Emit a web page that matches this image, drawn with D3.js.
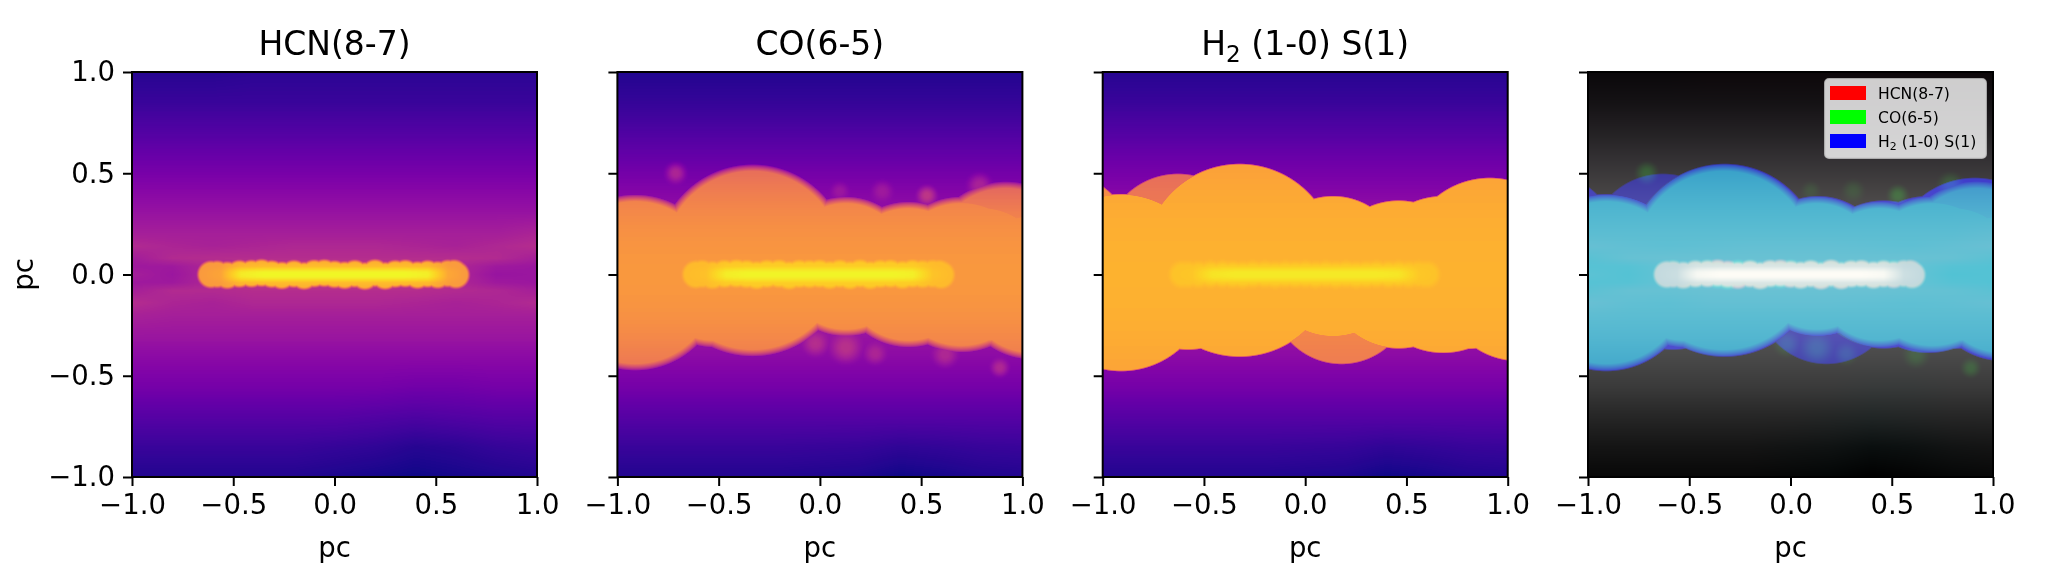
<!DOCTYPE html>
<html><head><meta charset="utf-8">
<script src="https://cdn.jsdelivr.net/npm/d3@7"></script>
<style>
html,body{margin:0;padding:0;background:#fff;width:2046px;height:575px;overflow:hidden}
canvas{position:absolute}
svg{position:absolute;left:0;top:0}
text{font-family:"DejaVu Sans";fill:#000}
</style></head><body>
<script>
// ---------- data (axis values, species) ----------
const tickValues = [-1, -0.5, 0, 0.5, 1];
const titles = ["HCN(8-7)", "CO(6-5)", "H2 (1-0) S(1)"];
const legendColors = ["#ff0000", "#00ff00", "#0000ff"];
const axisLabel = "pc";

// background emission, plasma-normalised, on a grid (rows top to bottom)
const gridX = [-1, -0.8, -0.6, -0.4, -0.2, 0, 0.2, 0.4, 0.6, 0.8, 1];
const gridY = [1, 0.85, 0.7, 0.55, 0.4, 0.3, 0.2, 0.14, 0.08, 0.04, 0, -0.04, -0.08, -0.14, -0.2, -0.3, -0.4, -0.55, -0.7, -0.85, -1];
const hcnGrid = [
 [.04,.04,.04,.05,.05,.05,.05,.05,.05,.05,.05],
 [.08,.08,.08,.08,.08,.08,.08,.08,.08,.08,.08],
 [.14,.14,.14,.14,.14,.14,.14,.14,.14,.14,.14],
 [.21,.21,.21,.21,.21,.21,.21,.21,.21,.21,.21],
 [.28,.28,.28,.28,.28,.28,.28,.28,.28,.28,.28],
 [.32,.32,.32,.32,.32,.32,.32,.32,.32,.32,.32],
 [.36,.36,.36,.36,.36,.36,.36,.36,.36,.36,.38],
 [.40,.38,.37,.38,.39,.39,.39,.38,.37,.39,.41],
 [.35,.40,.41,.41,.41,.41,.41,.41,.41,.40,.36],
 [.34,.34,.39,.43,.44,.44,.44,.43,.39,.34,.33],
 [.36,.33,.39,.45,.45,.45,.45,.45,.39,.32,.33],
 [.34,.34,.39,.43,.44,.44,.44,.43,.39,.34,.33],
 [.36,.40,.40,.41,.41,.41,.41,.41,.40,.39,.36],
 [.41,.38,.37,.39,.39,.39,.39,.38,.37,.38,.40],
 [.37,.36,.36,.36,.36,.36,.36,.36,.36,.36,.36],
 [.33,.33,.33,.33,.33,.33,.33,.33,.33,.33,.33],
 [.29,.29,.29,.29,.29,.29,.29,.29,.29,.29,.29],
 [.23,.23,.23,.23,.23,.23,.23,.22,.22,.23,.23],
 [.15,.15,.15,.15,.15,.15,.14,.13,.14,.15,.15],
 [.08,.08,.08,.08,.08,.07,.06,.04,.05,.07,.08],
 [.03,.03,.03,.03,.03,.02,.01,.00,.01,.02,.03]];
const coRows = [.03,.07,.13,.20,.27,.31,.33,.33,.33,.33,.33,.33,.33,.33,.33,.32,.29,.23,.15,.08,.03];
const h2Rows = [.04,.08,.14,.21,.27,.31,.33,.33,.33,.33,.33,.33,.33,.33,.33,.32,.29,.23,.15,.08,.03];
// extra darkening of the lower edge around x = 0.5, per grid column
const lowerDip = [0, 0, 0, 0, 0, .005, .01, .03, .02, .005, 0];

// discs: [x, y, radius, level, fall-off with height]
const coDiscs = [
 [-.33,.07,.475,.76,.12],[-.91,-.04,.435,.76,.12],[.13,.04,.345,.76,.12],[.44,0,.36,.76,.12],
 [-.52,0,.36,.76,.12],[.7,0,.385,.76,.12],[1.05,-.05,.37,.76,.12],[.8,0,.36,.76,.12],[.92,.06,.40,.76,.2],
 [-.71,.50,.07,.38,0],[.53,.39,.065,.44,0],[.89,-.46,.06,.39,0],[.275,-.39,.07,.38,0],
 [.62,-.395,.08,.39,0],[.13,-.36,.1,.42,0],[-.02,-.34,.08,.41,0],[.1,.41,.06,.33,0],
 [.31,.41,.07,.34,0],[.79,.44,.08,.37,0]];
const h2Discs = [
 [-.325,.07,.479,.83,.04],[-.91,-.04,.44,.83,.04],[.136,.04,.35,.83,.04],[.46,0,.368,.83,.04],
 [-.58,0,.374,.83,.04],[.68,0,.39,.83,.04],[1.05,-.05,.38,.83,.04],[.8,0,.37,.83,.04],[.91,.06,.42,.83,.04],
 [-1.25,.1,.42,.74,.02],
 [.178,-.095,.35,.73,.07],[-.63,.13,.37,.70,.07],[.68,-.12,.23,.46,0]];

// the bright bar: chain of small discs
const barX  = [-.61,-.58,-.53,-.47,-.41,-.36,-.31,-.26,-.2,-.15,-.1,-.05,0,.05,.1,.15,.2,.25,.3,.35,.41,.46,.51,.56,.59,.6];
const hcnBarY = [0,.001,-.004,.003,.004,.008,.002,-.005,.003,-.007,.005,.007,.001,-.004,.004,-.008,.007,-.007,.003,.005,-.003,.003,-.002,.005,.006,-.002];
const coBarY  = [0,.003,-.003,.003,.005,.002,-.004,.003,.004,-.005,.003,.002,.004,-.003,.004,-.004,.005,-.004,.003,.004,-.002,.004,.002,.004,.003,-.002];
const h2BarY  = [0,0,0,.002,.002,0,-.002,.002,.002,-.002,.002,0,.002,-.002,.002,-.002,.002,-.002,0,.002,0,.002,0,.002,0,0];
// along-bar brightness envelope, and across-bar profile
const envX = [-.68,-.56,-.46,-.35,.35,.46,.56,.66];
const envV = [0,.12,.85,1,1,.9,.15,0];
const profD = [0,.012,.025,.04,.062];
const profV = [1,.95,.65,.22,.02];

// ---------- layout ----------
const size = 405, axTop = 72, lefts = [132, 617.4, 1102.7, 1588];
const x = d3.scaleLinear().domain([-1, 1]).range([0, size]);
const y = d3.scaleLinear().domain([-1, 1]).range([size, 0]);
const svg = d3.select("body").append("svg").attr("width", 2046).attr("height", 575).style("z-index", 2);

// ---------- field helpers ----------
const colIndex = d3.scaleLinear().domain(gridX).range(gridX.map((_, i) => i)).clamp(true);
const rowIndex = d3.scaleLinear().domain(gridY).range(gridY.map((_, i) => i)).clamp(true);
const hcnBg = (px, py) => bilinear(hcnGrid, px, py);
const coMat = coRows.map((v, r) => gridX.map((_, c) => v - (r >= 19 ? lowerDip[c] * (r === 20 ? 1 : .7) : 0)));
const h2Mat = h2Rows.map((v, r) => gridX.map((_, c) => v - (r >= 19 ? lowerDip[c] * (r === 20 ? 1 : .7) : 0)));
function bilinear(m, px, py) {
  const cf = colIndex(px), rf = rowIndex(py);
  const c = Math.min(Math.floor(cf), gridX.length - 2), r = Math.min(Math.floor(rf), gridY.length - 2);
  const a = cf - c, b = rf - r;
  return (m[r][c] * (1 - a) + m[r][c + 1] * a) * (1 - b) + (m[r + 1][c] * (1 - a) + m[r + 1][c + 1] * a) * b;
}
const env = d3.scaleLinear().domain(envX).range(envV).clamp(true);
const prof = d3.scaleLinear().domain(profD).range(profV).clamp(true);

function makeField(bgFn, discs, barY, opt) {
  const f = new Float32Array(size * size);
  for (let j = 0; j < size; j++) {
    const py = y.invert(j + .5);
    for (let i = 0; i < size; i++) {
      const px = x.invert(i + .5);
      const bg = bgFn(px, py);
      let v = bg;
      for (const [cx, cy, r, lv, drop] of discs) {
        const dx = px - cx, dy = py - cy, d2 = dx * dx + dy * dy;
        if (d2 >= r * r) continue;
        const d = Math.sqrt(d2);
        const w = r < .12 ? r * .9 : opt.rim;
        const rim = Math.min(1, (r - d) / w);
        const target = lv - drop * (py / .5) * (py / .5);
        const s = r < .12 ? rim * rim * (3 - 2 * rim) : Math.pow(rim, .7);
        const loc = bg + (target - bg) * s;
        if (loc > v) v = loc;
      }
      // bar
      if (Math.abs(py) < .12 && Math.abs(px) < .75) {
        const e = env(px);
        const base = opt.barEnd + (opt.barMid - opt.barEnd) * e;
        let cov = 0;
        for (let k = 0; k < barX.length; k++) {
          const dx = px - barX[k], dy = py - barY[k];
          const d = Math.sqrt(dx * dx + dy * dy);
          if (d < opt.barR) cov = Math.max(cov, Math.min(1, (opt.barR - d) / opt.barRim));
        }
        if (cov > 0) {
          const s = cov * cov * (3 - 2 * cov);
          const b = v + (base - v) * s;
          if (b > v) v = b;
          const core = e * prof(Math.abs(py)) * s;
          const t = v + (opt.peak - v) * core;
          if (t > v) v = t;
        }
      }
      f[j * size + i] = v;
    }
  }
  return f;
}
const hcn = makeField(hcnBg, [], hcnBarY, {rim:.03,barR:.075,barRim:.022,barEnd:.76,barMid:.82,peak:.995});
const co  = makeField((a, b) => bilinear(coMat, a, b), coDiscs, coBarY, {rim:.035,barR:.078,barRim:.026,barEnd:.85,barMid:.88,peak:.99});
const h2  = makeField((a, b) => bilinear(h2Mat, a, b), h2Discs, h2BarY, {rim:.008,barR:.08,barRim:.04,barEnd:.87,barMid:.88,peak:.965});

function paint(left, pixel) {
  const c = d3.select("body").append("canvas")
    .attr("width", size).attr("height", size)
    .style("left", left + "px").style("top", axTop + "px")
    .style("width", size + "px").style("height", size + "px").node();
  const ctx = c.getContext("2d"), img = ctx.createImageData(size, size);
  for (let k = 0; k < size * size; k++) {
    const [r, g, b] = pixel(k);
    img.data[4 * k] = r; img.data[4 * k + 1] = g; img.data[4 * k + 2] = b; img.data[4 * k + 3] = 255;
  }
  ctx.putImageData(img, 0, 0);
}
const lut = d3.range(256).map(i => { const c = d3.rgb(d3.interpolatePlasma(i / 255)); return [c.r, c.g, c.b]; });
const toLut = v => lut[Math.max(0, Math.min(255, Math.round(v * 255)))];
[hcn, co, h2].forEach((f, i) => paint(lefts[i], k => toLut(f[k])));
paint(lefts[3], k => [hcn[k] * 255, co[k] * 255, h2[k] * 255]);

// ---------- axes ----------
const fmt = d => d3.format(".1f")(d).replace("-", "\u2212");
function speciesLabel(sel, label) {
  const m = label.match(/^H2(.*)$/);
  if (!m) { sel.text(label); return; }
  const big = parseFloat(sel.attr("font-size"));
  sel.append("tspan").text("H");
  sel.append("tspan").attr("dy", big * .2).attr("font-size", big * .7).text("2");
  sel.append("tspan").attr("dy", -big * .2).text(m[1]);
}
lefts.forEach((left, i) => {
  const g = svg.append("g").attr("transform", `translate(${left},${axTop})`);
  const ax = g.append("g").attr("transform", `translate(0,${size})`)
    .call(d3.axisBottom(x).tickValues(tickValues).tickFormat(fmt).tickSize(9).tickPadding(8));
  const ay = g.append("g")
    .call(d3.axisLeft(y).tickValues(tickValues).tickFormat(i === 0 ? fmt : () => "").tickSize(9).tickPadding(8));
  [ax, ay].forEach(a => {
    a.select(".domain").remove();
    a.selectAll("line").attr("stroke", "#000").attr("stroke-width", 2);
    a.selectAll("text").attr("font-family", "DejaVu Sans").attr("font-size", 27.5).attr("fill", "#000");
  });
  g.append("rect").attr("width", size).attr("height", size).attr("fill", "none").attr("stroke", "#000").attr("stroke-width", 2);
  g.append("text").attr("x", size / 2).attr("y", size + 80).attr("text-anchor", "middle").attr("font-size", 27.5).text(axisLabel);
  if (i === 0) g.append("text").attr("transform", `translate(-99,${size / 2}) rotate(-90)`).attr("text-anchor", "middle").attr("font-size", 27.5).text(axisLabel);
  if (i < 3) g.append("text").attr("x", size / 2).attr("y", -17).attr("text-anchor", "middle").attr("font-size", 33).call(speciesLabel, titles[i]);
});

// ---------- legend ----------
const lg = svg.append("g");
lg.append("rect").attr("x", 1825).attr("y", 79).attr("width", 161).attr("height", 79).attr("rx", 4)
  .attr("fill", "#fff").attr("fill-opacity", .8).attr("stroke", "#ccc").attr("stroke-opacity", .8).attr("stroke-width", 2);
const legendY = d3.scalePoint().domain(titles).range([86, 134]);
titles.forEach((t, i) => {
  lg.append("rect").attr("x", 1830).attr("y", legendY(t)).attr("width", 36).attr("height", 14).attr("fill", legendColors[i]);
  lg.append("text").attr("x", 1878).attr("y", legendY(t) + 13).attr("font-size", 15.6).call(speciesLabel, t);
});
</script>
</body></html>
